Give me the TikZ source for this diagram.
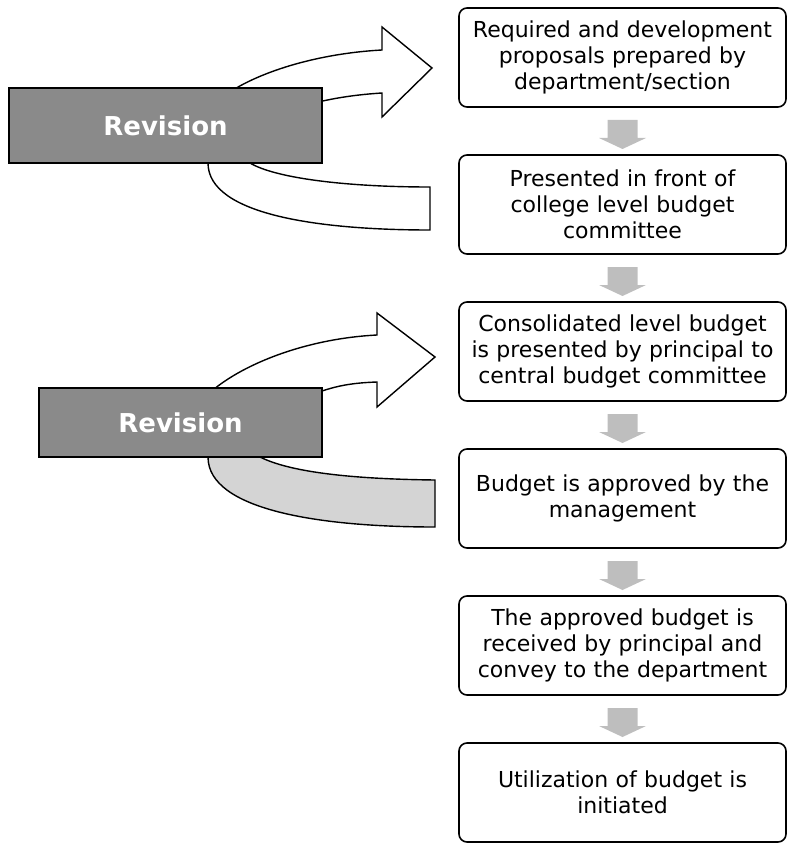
\documentclass[tikz,border=0pt]{standalone}
\usepackage{fontspec}
\setmainfont{DejaVu Sans}
\usetikzlibrary{arrows.meta,positioning,calc,backgrounds}
\definecolor{RevFill}{HTML}{8A8A8A}
\definecolor{FlowGrey}{HTML}{BEBEBE}
\definecolor{BandGrey}{HTML}{D4D4D4}
\tikzset{>=Stealth,stepbox/.style={draw,rounded corners=8pt,line width=1.6pt,
 text width=319pt,inner xsep=4pt,minimum height=99pt,align=center,
 font=\fontsize{22}{26}\selectfont},rev/.style={draw,fill=RevFill,line width=1.4pt,
 inner sep=0pt,text=white,font=\bfseries\fontsize{26}{30}\selectfont},
 band/.style={draw,line width=1.4pt,fill=white}}

\begin{document}
\begin{tikzpicture}[x=1pt,y=-1pt,node distance=46.4pt]
\useasboundingbox (0,0) rectangle (787,845);
\node[stepbox] (req) at (622.5,57.5) {Required and development\\proposals prepared by\\department/section};
\node[stepbox,below=of req] (pres) {Presented in front of\\college level budget\\committee};
\node[stepbox,below=of pres] (cons) {Consolidated level budget\\is presented by principal to\\central budget committee};
\node[stepbox,below=of cons] (appr) {Budget is approved by the\\management};
\node[stepbox,below=of appr] (recv) {The approved budget is\\received by principal and\\convey to the department};
\node[stepbox,below=of recv] (util) {Utilization of budget is\\initiated};
\foreach \a/\b in {req/pres,pres/cons,cons/appr,appr/recv,recv/util}
  \fill[FlowGrey] ($(\a.south)!.5!(\b.north)$) ++(-15,-11) -- ++(30,0) -- ++(0,18)
    -- ++(8.5,0) -- ++(-23.5,11) -- ++(-23.5,-11) -- ++(8.5,0) -- cycle;
\node[rev,minimum width=313pt,minimum height=75pt] (rev1) at (165.5,125.5) {Revision};
\node[rev,minimum width=283pt,minimum height=69pt] (rev2) at (180.5,422.5) {Revision};
\begin{scope}[on background layer]
\draw[band] (200,125) .. controls (210,90) and (290,55) .. (382,50) -- (382,27) -- (432,68)
  -- (382,117) -- (382,93) .. controls (350,95) and (320,100) .. (290,110) -- cycle;
\draw[band] (208,150) -- (208,163) .. controls (208,215) and (320,230) .. (430,230) -- (430,187)
  .. controls (345,187) and (275,178) .. (250,163) -- (250,150) -- cycle;
\draw[band] (190,420) .. controls (200,385) and (280,340) .. (377,335) -- (377,313) -- (435,357)
  -- (377,407) -- (377,382) .. controls (350,383) and (330,386) .. (300,400) -- cycle;
\draw[band,fill=BandGrey] (208,445) -- (208,457) .. controls (208,510) and (320,527) .. (435,527)
  -- (435,480) .. controls (350,479) and (290,472) .. (260,457) -- (260,445) -- cycle;
\end{scope}
\end{tikzpicture}
\end{document}
